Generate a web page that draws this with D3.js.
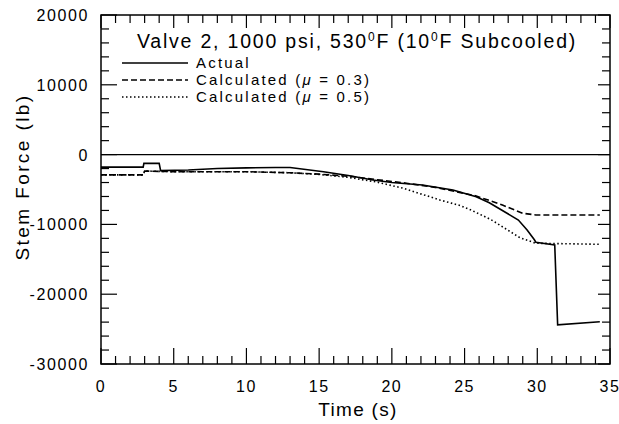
<!DOCTYPE html>
<html>
<head>
<meta charset="utf-8">
<script src="https://cdn.jsdelivr.net/npm/d3@7"></script>
<style>
  body { margin: 0; background: #fff; }
  svg text { font-family: "Liberation Sans", Arial, sans-serif; fill: #000; }
</style>
</head>
<body>
<svg></svg>
<script>
let width = 619;
let height = 424;
let margin = { left: 101, right: 9, top: 15, bottom: 60 };

// Actual
let actualTime = [0, 2.9, 2.95, 4.0, 4.1, 6, 8, 10, 12, 13, 15.3, 17, 18.7, 20, 22.1, 24.2, 25.8, 26.7, 28.7, 29.3, 29.8, 29.9, 31.2, 31.4, 34.3];
let actualForce = [-1800, -1800, -1250, -1250, -2300, -2200, -2000, -1900, -1850, -1850, -2450, -3000, -3640, -4000, -4350, -5070, -6030, -6900, -9370, -10800, -12200, -12560, -12950, -24400, -23950];

// Calculated (mu = 0.3)
let calc3Time = [0, 2.9, 3.0, 5, 8, 10, 13, 15, 17.3, 19, 21, 23, 24.4, 25.8, 27.6, 29.0, 29.9, 34.3];
let calc3Force = [-2900, -2900, -2350, -2450, -2450, -2450, -2600, -2800, -3150, -3600, -4100, -4700, -5300, -5930, -7220, -8400, -8650, -8650];

// Calculated (mu = 0.5)
let calc5Time = [0, 2.9, 3.0, 5, 10, 13, 15, 17, 19, 20.8, 23.3, 24.7, 25.4, 26.7, 27.0, 28.8, 29.9, 34.3];
let calc5Force = [-2900, -2900, -2350, -2450, -2450, -2600, -2850, -3250, -3950, -4830, -6500, -7300, -7900, -9200, -9550, -11900, -12700, -12850];

let xTicks = [0, 5, 10, 15, 20, 25, 30, 35];
let yTicks = [-30000, -20000, -10000, 0, 10000, 20000];

let xScale = d3.scaleLinear()
                .domain([0, 35])
                .range([margin.left, width - margin.right]);

let yScale = d3.scaleLinear()
                .domain([-30000, 20000])
                .range([height - margin.bottom, margin.top]);

let svg = d3.select("svg")
            .attr("width", width)
            .attr("height", height);

let x0 = margin.left, x1 = width - margin.right;
let y0 = margin.top, y1 = height - margin.bottom;

// inward ticks on all four sides
let xMinor = d3.range(0, 36, 1);
let yMinor = d3.range(-30000, 20001, 2000);

let ticks = svg.append("g").attr("stroke", "#000").attr("stroke-width", 1.2);

xMinor.forEach(t => {
    let len = t % 5 === 0 ? 16 : 8;
    let x = xScale(t);
    ticks.append("line").attr("x1", x).attr("x2", x).attr("y1", y1).attr("y2", y1 - len);
    ticks.append("line").attr("x1", x).attr("x2", x).attr("y1", y0).attr("y2", y0 + (t % 5 === 0 ? 13 : 8));
});

yMinor.forEach(v => {
    let len = v % 10000 === 0 ? 16 : 8;
    let y = yScale(v);
    ticks.append("line").attr("x1", x0).attr("x2", x0 + len).attr("y1", y).attr("y2", y);
    ticks.append("line").attr("x1", x1).attr("x2", x1 - (v % 10000 === 0 ? 12 : 8)).attr("y1", y).attr("y2", y);
});

// frame
svg.append("rect")
    .attr("x", x0)
    .attr("y", y0)
    .attr("width", x1 - x0)
    .attr("height", y1 - y0)
    .attr("fill", "none")
    .attr("stroke", "#000")
    .attr("stroke-width", 1.5);

// zero line
svg.append("line")
    .attr("x1", x0).attr("x2", x1)
    .attr("y1", yScale(0)).attr("y2", yScale(0))
    .attr("stroke", "#000")
    .attr("stroke-width", 1.2);

// tick labels
svg.append("g")
    .selectAll("text")
    .data(xTicks)
    .enter()
    .append("text")
    .attr("x", d => xScale(d))
    .attr("y", y1 + 28)
    .style("text-anchor", "middle")
    .style("font-size", "16px")
    .style("letter-spacing", "1.5px")
    .text(d => d);

svg.append("g")
    .selectAll("text")
    .data(yTicks)
    .enter()
    .append("text")
    .attr("x", x0 - 12)
    .attr("y", d => yScale(d) + 6)
    .style("text-anchor", "end")
    .style("font-size", "16px")
    .style("letter-spacing", "1.6px")
    .text(d => d < 0 ? "-" + Math.abs(d) : d);

// axis titles
svg.append("text")
    .attr("x", 358)
    .attr("y", 416)
    .style("text-anchor", "middle")
    .style("font-size", "19px")
    .style("letter-spacing", "1.3px")
    .text("Time (s)");

svg.append("text")
    .attr("transform", "rotate(-90)")
    .attr("x", -177)
    .attr("y", 29)
    .style("text-anchor", "middle")
    .style("font-size", "19px")
    .style("letter-spacing", "2.4px")
    .text("Stem Force (lb)");

// chart title with superscript degrees
let title = svg.append("text")
    .attr("x", 357)
    .attr("y", 48)
    .style("text-anchor", "middle")
    .style("font-size", "19.5px")
    .style("letter-spacing", "1.8px");
title.append("tspan").text("Valve 2, 1000 psi, 530");
title.append("tspan").attr("dy", -7).style("font-size", "12px").text("0");
title.append("tspan").attr("dy", 7).text("F (10");
title.append("tspan").attr("dy", -7).style("font-size", "12px").text("0");
title.append("tspan").attr("dy", 7).text("F Subcooled)");

// series
let series = [
    { name: "Actual", time: actualTime, force: actualForce, dash: null, width: 1.6 },
    { name: "0.3", time: calc3Time, force: calc3Force, dash: "6,3", width: 1.6 },
    { name: "0.5", time: calc5Time, force: calc5Force, dash: "1.5,2.5", width: 1.6 }
];

let line = d3.line()
    .x(d => xScale(d[0]))
    .y(d => yScale(d[1]));

svg.append("g")
    .selectAll("path")
    .data(series)
    .enter()
    .append("path")
    .attr("d", s => line(s.time.map((t, i) => [t, s.force[i]])))
    .attr("fill", "none")
    .attr("stroke", "#000")
    .attr("stroke-width", s => s.width)
    .attr("stroke-dasharray", s => s.dash);

// legend
let legend = svg.append("g");
let legendY = [63, 80, 97];

series.forEach((s, i) => {
    legend.append("line")
        .attr("x1", 122).attr("x2", 188)
        .attr("y1", legendY[i]).attr("y2", legendY[i])
        .attr("stroke", "#000")
        .attr("stroke-width", s.width)
        .attr("stroke-dasharray", s.dash);
    let t = legend.append("text")
        .attr("x", 196)
        .attr("y", legendY[i] + 5)
        .style("font-size", "15px")
        .style("letter-spacing", "2.2px");
    if (i === 0) {
        t.text("Actual");
    } else {
        t.append("tspan").text("Calculated (");
        t.append("tspan").style("font-style", "italic").text("\u03bc");
        t.append("tspan").text(" = " + s.name + ")");
    }
});
</script>
</body>
</html>
